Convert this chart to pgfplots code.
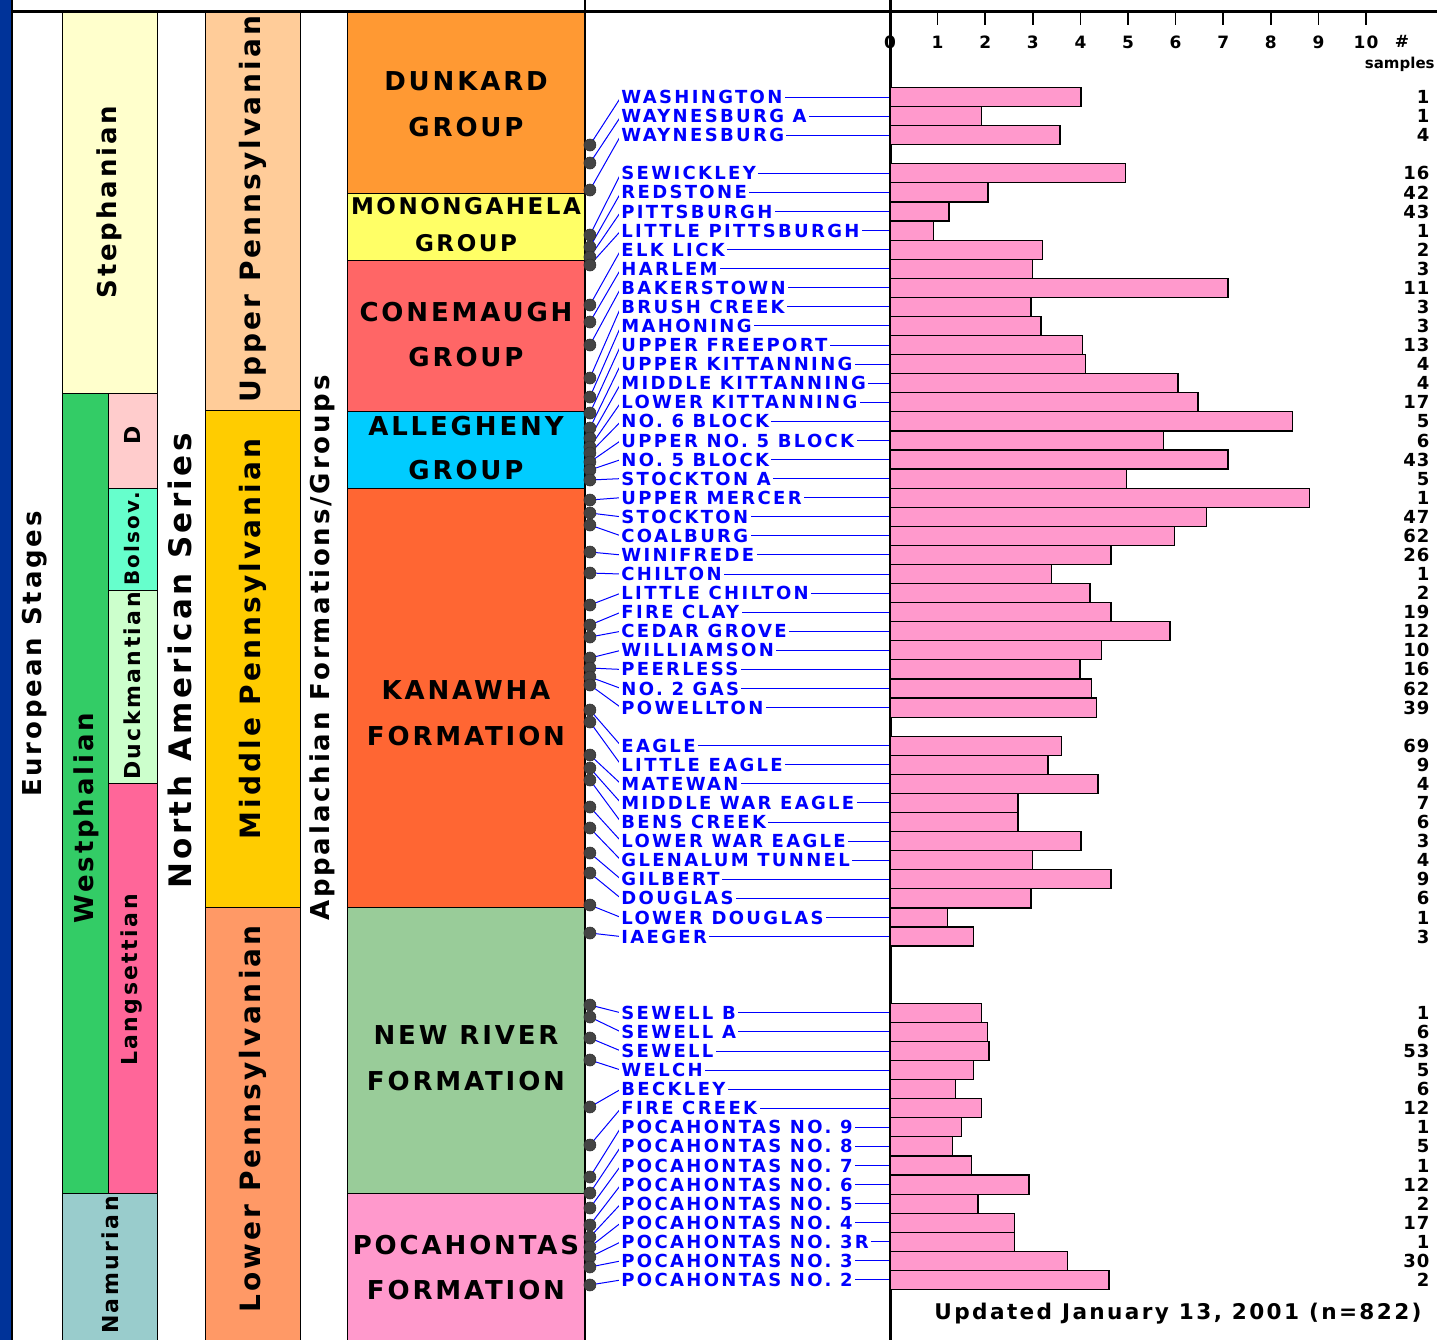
\documentclass[border=0pt]{standalone}
\usepackage{pgfplots}
\pgfplotsset{compat=1.18}
\usepackage{pgfplotstable}
\usepackage{fontspec}
\setmainfont{DejaVu Sans}
\newfontfamily\seamf{DejaVu Sans}[LetterSpace=13]
\newfontfamily\bigf{DejaVu Sans}[LetterSpace=11]
\newfontfamily\numf{DejaVu Sans}[LetterSpace=6]
\newfontfamily\smallf{DejaVu Sans}
\definecolor{bordblue}{HTML}{003399}
\definecolor{cSteph}{HTML}{FFFFCC}
\definecolor{cWest}{HTML}{33CC66}
\definecolor{cD}{HTML}{FFCCCC}
\definecolor{cBols}{HTML}{66FFCC}
\definecolor{cDuck}{HTML}{CCFFCC}
\definecolor{cLang}{HTML}{FF6699}
\definecolor{cNamu}{HTML}{99CCCC}
\definecolor{cUpP}{HTML}{FFCC99}
\definecolor{cMidP}{HTML}{FFCC00}
\definecolor{cLowP}{HTML}{FF9966}
\definecolor{cDunk}{HTML}{FF9933}
\definecolor{cMono}{HTML}{FFFF66}
\definecolor{cCone}{HTML}{FF6666}
\definecolor{cAlle}{HTML}{00CCFF}
\definecolor{cKana}{HTML}{FF6633}
\definecolor{cNewR}{HTML}{99CC99}
\definecolor{cPoca}{HTML}{FF99CC}
\definecolor{barpink}{HTML}{FF99CC}
\definecolor{seamblue}{HTML}{0000FF}
\definecolor{dotgray}{HTML}{444444}

\pgfplotstableread[col sep=comma]{
k,v,dot,n,name
0,4.01,145,1,WASHINGTON
1,1.93,163,1,WAYNESBURG A
2,3.57,190,4,WAYNESBURG
4,4.94,235,16,SEWICKLEY
5,2.06,247,42,REDSTONE
6,1.24,257,43,PITTSBURGH
7,0.92,265,1,LITTLE PITTSBURGH
8,3.21,305,2,ELK LICK
9,3.00,322,3,HARLEM
10,7.10,345,11,BAKERSTOWN
11,2.96,378,3,BRUSH CREEK
12,3.17,397,3,MAHONING
13,4.05,413,13,UPPER FREEPORT
14,4.10,428,4,UPPER KITTANNING
15,6.05,438,4,MIDDLE KITTANNING
16,6.47,447,17,LOWER KITTANNING
17,8.45,453,5,NO. 6  BLOCK
18,5.74,462,6,UPPER NO. 5 BLOCK
19,7.10,470,43,NO. 5 BLOCK
20,4.96,480,5,STOCKTON A
21,8.82,500,1,UPPER MERCER
22,6.64,513,47,STOCKTON
23,5.97,525,62,COALBURG
24,4.64,552,26,WINIFREDE
25,3.40,573,1,CHILTON
26,4.20,605,2,LITTLE CHILTON
27,4.64,625,19,FIRE CLAY
28,5.88,637,12,CEDAR GROVE
29,4.45,658,10,WILLIAMSON
30,3.99,668,16,PEERLESS
31,4.24,677,62,NO. 2 GAS
32,4.33,685,39,POWELLTON
34,3.61,710,69,EAGLE
35,3.32,722,9,LITTLE EAGLE
36,4.37,755,4,MATEWAN
37,2.69,768,7,MIDDLE WAR EAGLE
38,2.69,780,6,BENS CREEK
39,4.01,807,3,LOWER WAR EAGLE
40,3.00,828,4,GLENALUM TUNNEL
41,4.64,853,9,GILBERT
42,2.96,873,6,DOUGLAS
43,1.20,905,1,LOWER DOUGLAS
44,1.76,933,3,IAEGER
48,1.93,1005,1,SEWELL B
49,2.04,1017,6,SEWELL A
50,2.08,1038,53,SEWELL
51,1.76,1060,5,WELCH
52,1.37,1107,6,BECKLEY
53,1.93,1145,12,FIRE CREEK
54,1.51,1177,1,POCAHONTAS NO. 9
55,1.32,1193,5,POCAHONTAS NO. 8
56,1.72,1208,1,POCAHONTAS NO. 7
57,2.92,1225,12,POCAHONTAS NO. 6
58,1.85,1237,2,POCAHONTAS NO. 5
59,2.61,1247,17,POCAHONTAS NO. 4
60,2.61,1257,1,POCAHONTAS NO. 3R
61,3.72,1267,30,POCAHONTAS NO. 3
62,4.60,1285,2,POCAHONTAS NO. 2
}\seams

\newcommand\rect[5]{\addplot[fill=#5, draw=black, line width=0.5pt] coordinates {(#1,#2) (#3,#2) (#3,#4) (#1,#4)} -- cycle;}
\newcommand\bigfont[1]{\bigf\bfseries\fontsize{#1}{#1}\selectfont}

\begin{document}
\begin{tikzpicture}
\useasboundingbox (0,0) rectangle (718.5pt,-670pt);
% ---------------- background / stratigraphic columns (pixel frame)
\begin{axis}[
  at={(0pt,0pt)}, anchor=north west,
  width=718.5pt, height=670pt, scale only axis,
  xmin=0, xmax=1437, ymin=0, ymax=1340, y dir=reverse,
  hide axis, clip=false, no markers,
]
\addplot[fill=bordblue, draw=none] coordinates {(0,0) (11,0) (11,1340) (0,1340)} -- cycle;
\addplot[black, line width=1pt] coordinates {(12,0) (12,1340)};
% European stages
\rect{62}{11}{157}{393}{cSteph}
\rect{62}{393}{108}{1193}{cWest}
\rect{108}{393}{157}{488}{cD}
\rect{108}{488}{157}{590}{cBols}
\rect{108}{590}{157}{783}{cDuck}
\rect{108}{783}{157}{1193}{cLang}
\rect{62}{1193}{157}{1340}{cNamu}
% North American series
\rect{205}{11}{300}{410}{cUpP}
\rect{205}{410}{300}{907}{cMidP}
\rect{205}{907}{300}{1340}{cLowP}
% Appalachian groups
\rect{347}{11}{585}{193}{cDunk}
\rect{347}{193}{585}{260}{cMono}
\rect{347}{260}{585}{411}{cCone}
\rect{347}{411}{585}{488}{cAlle}
\rect{347}{488}{585}{907}{cKana}
\rect{347}{907}{585}{1193}{cNewR}
\rect{347}{1193}{585}{1340}{cPoca}
% frame lines
\addplot[black, line width=1.5pt] coordinates {(12,11) (890,11)};
\addplot[black, line width=1pt] coordinates {(585,0) (585,1340)};
\addplot[black, line width=1.5pt] coordinates {(890,0) (890,1340)};
% rotated labels
\node[rotate=90, font=\bigfont{13}] at (axis cs:35,654) {European Stages};
\node[rotate=90, font=\bigfont{13}] at (axis cs:109,202) {Stephanian};
\node[rotate=90, font=\bigfont{13}] at (axis cs:86,818) {Westphalian};
\node[rotate=90, font=\bigfont{11}] at (axis cs:132,435) {D};
\node[rotate=90, font=\bigfont{10}] at (axis cs:132,539) {Bolsov.};
\node[rotate=90, font=\bigfont{11}] at (axis cs:132,686) {Duckmantian};
\node[rotate=90, font=\bigfont{11}] at (axis cs:132,980) {Langsettian};
\node[rotate=90, font=\bigfont{11}] at (axis cs:110,1265) {Namurian};
\node[rotate=90, font=\bigfont{15.5}] at (axis cs:180,661) {North American Series};
\node[rotate=90, font=\bigfont{14}] at (axis cs:253,209) {Upper Pennsylvanian};
\node[rotate=90, font=\bigfont{14}] at (axis cs:253,639) {Middle Pennsylvanian};
\node[rotate=90, font=\bigfont{14}] at (axis cs:253,1119) {Lower Pennsylvanian};
\node[rotate=90, font=\bigfont{13}] at (axis cs:322,648) {Appalachian Formations/Groups};
% group labels
\node[font=\bigfont{13}] at (axis cs:466,81) {DUNKARD};
\node[font=\bigfont{13}] at (axis cs:466,127) {GROUP};
\node[font=\bigfont{11.5}] at (axis cs:466,206) {MONONGAHELA};
\node[font=\bigfont{11.5}] at (axis cs:466,243) {GROUP};
\node[font=\bigfont{13}] at (axis cs:466,312) {CONEMAUGH};
\node[font=\bigfont{13}] at (axis cs:466,357) {GROUP};
\node[font=\bigfont{13}] at (axis cs:466,426) {ALLEGHENY};
\node[font=\bigfont{13}] at (axis cs:466,470) {GROUP};
\node[font=\bigfont{13}] at (axis cs:466,690) {KANAWHA};
\node[font=\bigfont{13}] at (axis cs:466,736) {FORMATION};
\node[font=\bigfont{13}] at (axis cs:466,1035) {NEW RIVER};
\node[font=\bigfont{13}] at (axis cs:466,1081) {FORMATION};
\node[font=\bigfont{13}] at (axis cs:466,1245) {POCAHONTAS};
\node[font=\bigfont{13}] at (axis cs:466,1290) {FORMATION};
% header / footer
\node[font=\numf\bfseries\fontsize{8.5}{9}\selectfont] at (axis cs:1402,41) {\#};
\node[anchor=east, inner sep=0pt, font=\smallf\bfseries\fontsize{7.5}{9}\selectfont] at (axis cs:1435,64) {samples};
\node[font=\bigfont{10.8}] at (axis cs:1178,1314) {Updated January 13, 2001 (n=822)};
\end{axis}
% ---------------- bar chart (value frame)
\begin{axis}[
  at={(445pt,-5.5pt)}, anchor=north west,
  width=273.5pt, height=664.5pt, scale only axis,
  xmin=0, xmax=11.49, ymin=-4.507, ymax=65.147, y dir=reverse,
  axis x line*=top, axis y line*=left,
  y axis line style={draw=none},
  x axis line style={line width=1.5pt},
  xtick={0,1,...,10}, ytick=\empty,
  tick align=inside, major tick length=7pt,
  xtick style={line width=0.8pt, black},
  /pgf/number format/assume math mode=true,
  xticklabel style={anchor=north, yshift=-9pt, font=\numf\bfseries\fontsize{8.5}{9}\selectfont},
  clip=false,
]
% horizontal leader lines
\addplot[seamblue, line width=0.5pt, no markers, quiver={u=5.651, v=0}]
  table[x expr=-5.651, y=k]{\seams};
% diagonal leader lines from the dots
\addplot[seamblue, line width=0.5pt, no markers, quiver={u=0.652, v=\thisrow{k}-(\thisrow{dot}-97)/19.08}]
  table[x expr=-6.303, y expr=(\thisrow{dot}-97)/19.08]{\seams};
% dots
\addplot[only marks, mark=*, mark size=3pt, mark options={fill=dotgray, draw=black!80, line width=0.3pt}]
  table[x expr=-6.303, y expr=(\thisrow{dot}-97)/19.08]{\seams};
% bars
\addplot[xbar, bar width=1, fill=barpink, draw=black, line width=0.6pt]
  table[x=v, y=k]{\seams};
% seam names
\addplot[draw=none, no markers, nodes near coords, point meta=explicit symbolic,
  every node near coord/.append style={anchor=west, fill=white, inner xsep=1.2pt, inner ysep=0.3pt,
    text=seamblue, font=\seamf\bfseries\fontsize{9}{10}\selectfont}]
  table[x expr=-5.70, y=k, meta=name]{\seams};
% sample counts
\addplot[draw=none, no markers, nodes near coords, point meta=explicit symbolic,
  every node near coord/.append style={anchor=east, inner sep=0pt,
    text=black, font=\numf\bfseries\fontsize{9}{10}\selectfont}]
  table[x expr=11.34, y=k, meta=n]{\seams};
\end{axis}
\end{tikzpicture}
\end{document}
